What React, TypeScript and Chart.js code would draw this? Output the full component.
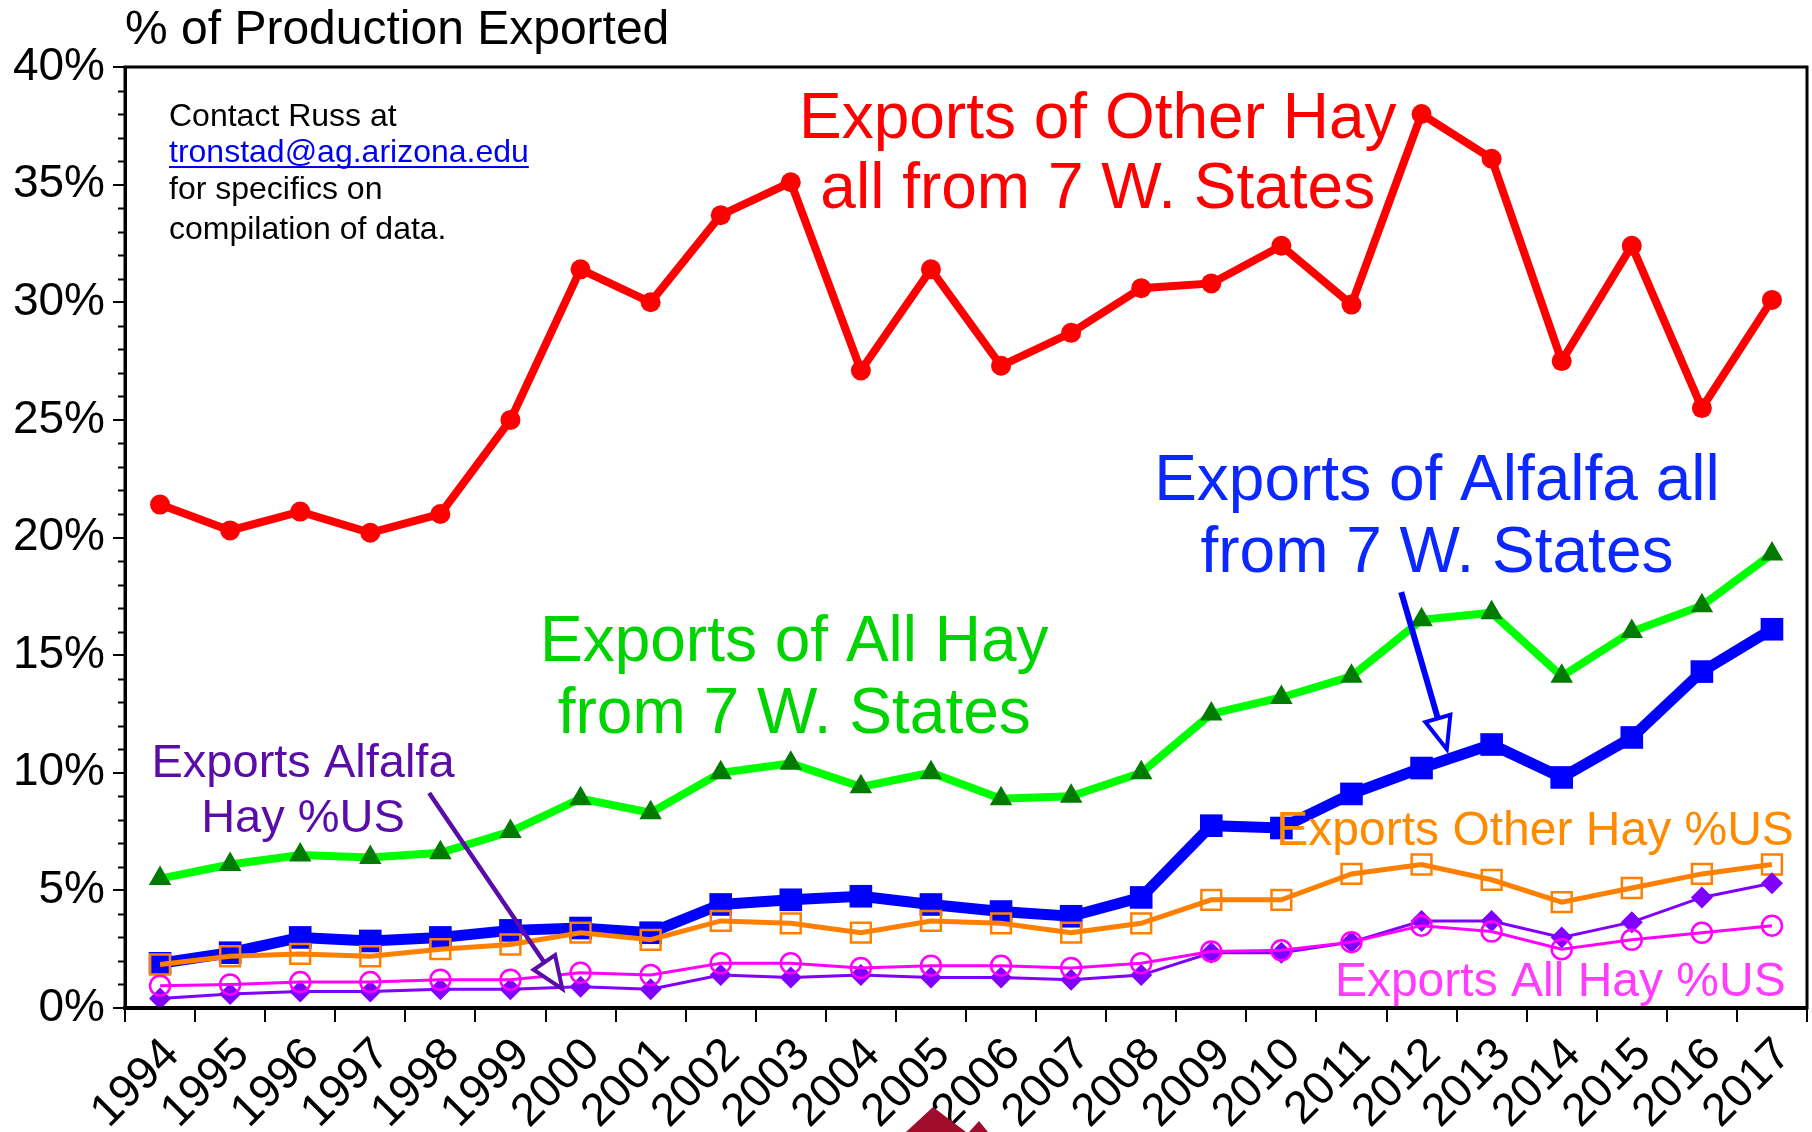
import React, { useEffect, useRef } from 'react';
import { Chart, registerables } from 'chart.js';

Chart.register(...registerables);

const years = ['1994','1995','1996','1997','1998','1999','2000','2001','2002','2003','2004','2005','2006','2007','2008','2009','2010','2011','2012','2013','2014','2015','2016','2017'];

const otherHay7W = [21.4,20.3,21.1,20.2,21.0,25.0,31.4,30.0,33.7,35.1,27.1,31.4,27.3,28.7,30.6,30.8,32.4,29.9,38.0,36.1,27.5,32.4,25.5,30.1];
const allHay7W = [5.5,6.1,6.5,6.4,6.6,7.5,8.9,8.3,10.0,10.4,9.4,10.0,8.9,9.0,10.0,12.5,13.2,14.1,16.5,16.8,14.1,16.0,17.1,19.3];
const alfalfa7W = [1.9,2.35,3.0,2.85,3.0,3.3,3.4,3.2,4.4,4.6,4.75,4.4,4.1,3.9,4.7,7.75,7.65,9.1,10.2,11.2,9.8,11.5,14.3,16.1];
const otherHayUS = [1.85,2.2,2.3,2.2,2.5,2.7,3.2,2.9,3.7,3.6,3.2,3.7,3.6,3.2,3.6,4.6,4.6,5.7,6.1,5.45,4.5,5.1,5.7,6.1];
const alfalfaUS = [0.4,0.6,0.7,0.7,0.8,0.8,0.9,0.8,1.4,1.3,1.4,1.3,1.3,1.2,1.4,2.35,2.35,2.8,3.7,3.7,3.0,3.65,4.7,5.3];
const allHayUS = [0.95,1.0,1.1,1.1,1.2,1.2,1.5,1.4,1.9,1.9,1.7,1.8,1.8,1.7,1.9,2.4,2.45,2.8,3.5,3.25,2.5,2.9,3.2,3.5];

const yTickValues = [0, 5, 10, 15, 20, 25, 30, 35, 40];
const yTickLabels = ['0%', '5%', '10%', '15%', '20%', '25%', '30%', '35%', '40%'];

const titleText = '% of Production Exported';
const contactLines = ['Contact Russ at', 'tronstad@ag.arizona.edu', 'for specifics on', 'compilation of data.'];

const FONT = '"Liberation Sans", Arial, Helvetica, sans-serif';

// annotation anchors in data coordinates (category index, value %)
const notes = [
  { lines: ['Exports of Other Hay', 'all from 7 W. States'], x: 13.38, y: [37.0, 34.0], color: '#ff0000', size: 64 },
  { lines: ['Exports of Alfalfa all', 'from 7 W. States'], x: 18.22, y: [21.6, 18.55], color: '#0a28ff', size: 64 },
  { lines: ['Exports of All Hay', 'from 7 W. States'], x: 9.05, y: [14.75, 11.7], color: '#00d400', size: 64 },
  { lines: ['Exports Alfalfa', 'Hay %US'], x: 2.04, y: [9.8, 7.47], color: '#5a0ca8', size: 47 },
  { lines: ['Exports Other Hay %US'], x: 19.62, y: [6.92], color: '#ff8a00', size: 48 },
  { lines: ['Exports All Hay %US'], x: 19.98, y: [0.5], color: '#ff3cff', size: 48 },
];

const arrows = [
  { from: [17.71, 17.68], to: [18.36, 11.0], color: '#0000ff', width: 6 },
  { from: [3.84, 9.14], to: [5.74, 0.81], color: '#5a0ca8', width: 4.5 },
];

const decorPlugin = {
  id: 'decor',
  afterDraw(chart: any) {
    const ctx = chart.ctx as CanvasRenderingContext2D;
    const xs = chart.scales.x;
    const ys = chart.scales.y;
    const ca = chart.chartArea;
    ctx.save();

    // frame
    ctx.strokeStyle = '#000';
    ctx.lineWidth = 3;
    ctx.strokeRect(ca.left, ca.top, ca.right - ca.left, ca.bottom - ca.top);

    // minor y ticks
    ctx.lineWidth = 2;
    for (let v = 1; v < 40; v++) {
      if (v % 5 === 0) continue;
      const py = Math.round(ys.getPixelForValue(v)) + 0.5;
      ctx.beginPath();
      ctx.moveTo(ca.left - 7, py);
      ctx.lineTo(ca.left, py);
      ctx.stroke();
    }

    // title
    ctx.fillStyle = '#000';
    ctx.textAlign = 'left';
    ctx.textBaseline = 'alphabetic';
    ctx.font = `48px ${FONT}`;
    ctx.fillText(titleText, ca.left, 44);

    // contact block
    ctx.font = `32px ${FONT}`;
    const cx = xs.getPixelForValue(0.128);
    const baseVals = [37.5, 35.96, 34.4, 32.7];
    contactLines.forEach((t, i) => {
      const py = ys.getPixelForValue(baseVals[i]);
      if (i === 1) {
        ctx.fillStyle = '#0000ee';
        ctx.fillText(t, cx, py);
        const w = ctx.measureText(t).width;
        ctx.fillRect(cx, py + 4, w, 2);
      } else {
        ctx.fillStyle = '#000';
        ctx.fillText(t, cx, py);
      }
    });

    // annotations
    ctx.textAlign = 'center';
    notes.forEach((n) => {
      ctx.fillStyle = n.color;
      ctx.font = `${n.size}px ${FONT}`;
      const px = xs.getPixelForValue(n.x);
      n.lines.forEach((t, i) => {
        ctx.fillText(t, px, ys.getPixelForValue(n.y[i]));
      });
    });

    // arrows with open heads
    arrows.forEach((a) => {
      const x1 = xs.getPixelForValue(a.from[0]);
      const y1 = ys.getPixelForValue(a.from[1]);
      const x2 = xs.getPixelForValue(a.to[0]);
      const y2 = ys.getPixelForValue(a.to[1]);
      const ang = Math.atan2(y2 - y1, x2 - x1);
      const headLen = 32;
      const headW = 13;
      const bx = x2 - Math.cos(ang) * headLen;
      const by = y2 - Math.sin(ang) * headLen;
      ctx.strokeStyle = a.color;
      ctx.lineWidth = a.width;
      ctx.lineCap = 'butt';
      ctx.beginPath();
      ctx.moveTo(x1, y1);
      ctx.lineTo(bx, by);
      ctx.stroke();
      ctx.lineWidth = 4;
      ctx.lineJoin = 'miter';
      ctx.beginPath();
      ctx.moveTo(x2, y2);
      ctx.lineTo(bx + Math.sin(ang) * headW, by - Math.cos(ang) * headW);
      ctx.lineTo(bx - Math.sin(ang) * headW, by + Math.cos(ang) * headW);
      ctx.closePath();
      ctx.fillStyle = '#fff';
      ctx.fill();
      ctx.stroke();
    });

    // logo fragment at bottom
    ctx.fillStyle = '#a00c2c';
    ctx.beginPath();
    ctx.moveTo(906, 1132);
    ctx.lineTo(933, 1107);
    ctx.lineTo(966, 1132);
    ctx.closePath();
    ctx.fill();
    ctx.beginPath();
    ctx.moveTo(969, 1132);
    ctx.lineTo(979, 1121);
    ctx.lineTo(988, 1132);
    ctx.closePath();
    ctx.fill();

    ctx.restore();
  },
};

export default function App() {
  const ref = useRef<HTMLCanvasElement>(null);
  useEffect(() => {
    const canvas = ref.current!;
    const chart = new Chart(canvas, {
      type: 'line',
      data: {
        labels: years,
        datasets: [
          {
            label: 'Exports of Other Hay 7 W. States', data: otherHay7W, order: 6,
            borderColor: '#ff0000', borderWidth: 8, pointStyle: 'circle', pointRadius: 10,
            pointBackgroundColor: '#ff0000', pointBorderColor: '#ff0000', pointBorderWidth: 0, tension: 0,
          },
          {
            label: 'Exports of All Hay 7 W. States', data: allHay7W, order: 5,
            borderColor: '#00ff00', borderWidth: 8, pointStyle: 'triangle', pointRadius: 13,
            pointBackgroundColor: '#007a00', pointBorderColor: '#007a00', pointBorderWidth: 0, tension: 0,
          },
          {
            label: 'Exports of Alfalfa 7 W. States', data: alfalfa7W, order: 4,
            borderColor: '#0000ff', borderWidth: 11, pointStyle: 'rect', pointRadius: 16,
            pointBackgroundColor: '#0000ff', pointBorderColor: '#0000ff', pointBorderWidth: 0, tension: 0,
          },
          {
            label: 'Exports Other Hay %US', data: otherHayUS, order: 3,
            borderColor: '#ff8000', borderWidth: 5, pointStyle: 'rect', pointRadius: 14,
            pointBackgroundColor: 'rgba(0,0,0,0)', pointBorderColor: '#ff8000', pointBorderWidth: 2.5, tension: 0,
          },
          {
            label: 'Exports Alfalfa Hay %US', data: alfalfaUS, order: 2,
            borderColor: '#8000ff', borderWidth: 3, pointStyle: 'rectRot', pointRadius: 11,
            pointBackgroundColor: '#8000ff', pointBorderColor: '#8000ff', pointBorderWidth: 0, tension: 0,
          },
          {
            label: 'Exports All Hay %US', data: allHayUS, order: 1,
            borderColor: '#ff00ff', borderWidth: 3, pointStyle: 'circle', pointRadius: 10,
            pointBackgroundColor: 'rgba(0,0,0,0)', pointBorderColor: '#ff00ff', pointBorderWidth: 2.5, tension: 0,
          },
        ],
      },
      options: {
        responsive: false,
        animation: false,
        devicePixelRatio: 1,
        layout: { autoPadding: false, padding: { top: 67, right: 5, left: 0, bottom: 0 } },
        plugins: { legend: { display: false }, tooltip: { enabled: false }, title: { display: false } },
        scales: {
          x: {
            type: 'category',
            offset: true,
            grid: { offset: true, drawOnChartArea: false, drawTicks: true, tickLength: 14, color: '#000', lineWidth: 2 },
            border: { display: true, color: '#000', width: 4 },
            ticks: {
              color: '#000', font: { family: FONT, size: 46 }, minRotation: 45, maxRotation: 45,
              autoSkip: false, padding: 6, labelOffset: 12,
            },
            afterFit: (s: any) => { s.height = 124; s.paddingLeft = 0; s.paddingRight = 0; },
          },
          y: {
            min: 0, max: 40,
            afterBuildTicks: (s: any) => { s.ticks = yTickValues.map((v) => ({ value: v })); },
            grid: { drawOnChartArea: false, drawTicks: true, tickLength: 12, color: '#000', lineWidth: 2 },
            border: { display: true, color: '#000', width: 3 },
            ticks: {
              color: '#000', font: { family: FONT, size: 46 }, padding: 8,
              callback: (v: any) => yTickLabels[yTickValues.indexOf(Number(v))] ?? '',
            },
            afterFit: (s: any) => { s.width = 125; s.paddingTop = 0; s.paddingBottom = 0; },
          },
        },
      },
      plugins: [decorPlugin],
    });
    return () => chart.destroy();
  }, []);
  return (
    <div style={{ position: 'fixed', left: 0, top: 0, width: 1812, height: 1132, background: '#fff' }}>
      <canvas ref={ref} width={1812} height={1132} style={{ display: 'block', width: 1812, height: 1132 }} />
    </div>
  );
}
